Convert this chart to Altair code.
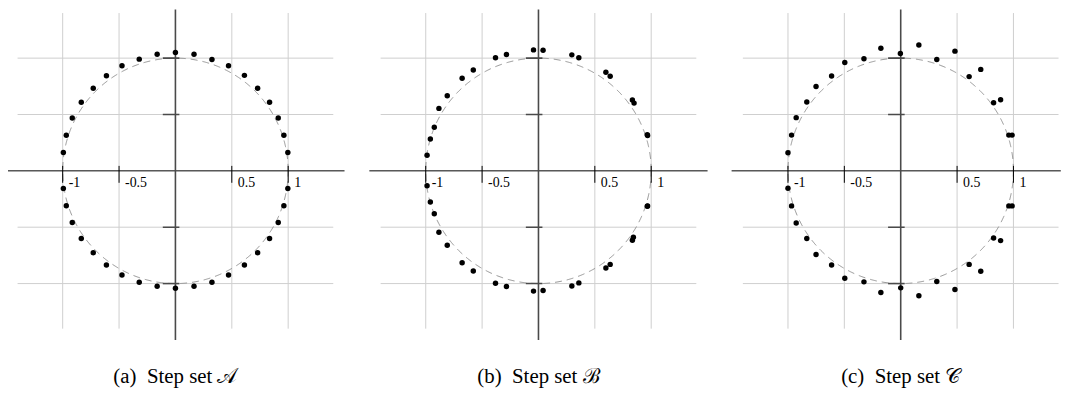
import altair as alt
import pandas as pd
import numpy as np

# ---- data ----
A_x = [0.000, 0.165, 0.324, 0.471, 0.612, 0.729, 0.835, 0.912, 0.962, 0.997,
       -0.162, -0.321, -0.474, -0.612, -0.729, -0.835, -0.915, -0.968, -0.994,
       -0.994, -0.968, -0.915, -0.835, -0.729, -0.612, -0.474, -0.321, -0.162, 0.000,
       0.165, 0.324, 0.471, 0.612, 0.729, 0.835, 0.912, 0.962, 0.997]
A_y = [1.050, 1.035, 0.988, 0.932, 0.847, 0.732, 0.609, 0.468, 0.315, 0.162,
       1.035, 0.991, 0.932, 0.844, 0.732, 0.609, 0.468, 0.315, 0.162,
       -0.156, -0.309, -0.459, -0.600, -0.726, -0.835, -0.924, -0.988, -1.024, -1.041,
       -1.024, -0.988, -0.924, -0.835, -0.726, -0.600, -0.459, -0.309, -0.156]

B_x = [-0.044, 0.041, 0.296, 0.358, 0.598, 0.636, 0.833, 0.848, 0.965, 0.968,
       0.965, 0.968, 0.842, 0.833, 0.636, 0.598, 0.358, 0.296, 0.041, -0.044,
       -0.284, -0.381, -0.578, -0.677, -0.809, -0.883, -0.924, -0.959, -0.988,
       -0.988, -0.959, -0.924, -0.883, -0.809, -0.677, -0.578, -0.381, -0.284]
B_y = [1.073, 1.070, 1.029, 1.003, 0.874, 0.839, 0.628, 0.601, 0.320, 0.314,
       -0.314, -0.311, -0.589, -0.616, -0.830, -0.862, -0.994, -1.021, -1.062, -1.067,
       1.032, 1.003, 0.894, 0.821, 0.666, 0.554, 0.387, 0.282, 0.138,
       -0.132, -0.276, -0.381, -0.545, -0.660, -0.815, -0.889, -0.997, -1.026]

C_x = [-0.003, 0.161, 0.320, 0.481, 0.607, 0.710, 0.824, 0.886, 0.959, 0.988,
       -0.176, -0.326, -0.496, -0.613, -0.751, -0.833, -0.927, -0.968, -1.000,
       -1.000, -0.968, -0.927, -0.833, -0.751, -0.613, -0.496, -0.326, -0.176,
       0.000, 0.161, 0.320, 0.481, 0.607, 0.710, 0.824, 0.886, 0.959, 0.988]
C_y = [1.041, 1.117, 0.988, 1.062, 0.836, 0.900, 0.604, 0.630, 0.317, 0.317,
       1.088, 0.994, 0.962, 0.842, 0.748, 0.610, 0.472, 0.317, 0.161,
       -0.155, -0.311, -0.463, -0.601, -0.742, -0.836, -0.953, -0.985, -1.079,
       -1.038, -1.108, -0.982, -1.053, -0.830, -0.891, -0.595, -0.619, -0.311, -0.311]

grid_vals = [-1, -0.5, 0.5, 1]
tick_labels = ["-1", "-0.5", "0.5", "1"]
captions = ["(a)\u00a0 Step set \U0001D49C",
            "(b)\u00a0 Step set \u212C",
            "(c)\u00a0 Step set \U0001D49E"]

# unit circle (reference geometry)
circ_t = np.linspace(0, 2 * np.pi, 721)
circle_df = pd.DataFrame({"cx": np.cos(circ_t), "cy": np.sin(circ_t), "o": np.arange(len(circ_t))})

SERIF = "Liberation Serif"
Y_DOM = [-1.5, 1.432]
HEIGHT = 333
U = 113.6  # pixels per unit (layout only)


def panel(xs, ys, caption, xdom, dx):
    width = round((xdom[1] - xdom[0]) * U, 1)
    xsc = alt.Scale(domain=xdom, nice=False, zero=False)
    ysc = alt.Scale(domain=Y_DOM, nice=False, zero=False)

    def X(f):
        return alt.X(f, type="quantitative", scale=xsc, axis=None)

    def Y(f):
        return alt.Y(f, type="quantitative", scale=ysc, axis=None)

    vgrid = pd.DataFrame({"x": grid_vals, "y1": [-1.4] * 4, "y2": [1.4] * 4})
    hgrid = pd.DataFrame({"y": grid_vals, "x1": [-1.4] * 4, "x2": [1.4] * 4})
    gv = alt.Chart(vgrid).mark_rule(color="#cfcfcf", strokeWidth=1, clip=True).encode(
        x=X("x"), y=Y("y1"), y2="y2")
    gh = alt.Chart(hgrid).mark_rule(color="#cfcfcf", strokeWidth=1, clip=True).encode(
        y=Y("y"), x=X("x1"), x2="x2")

    circ = alt.Chart(circle_df).mark_line(
        color="#8a8a8a", strokeWidth=0.9, strokeDash=[7, 5], clip=True
    ).encode(x=X("cx"), y=Y("cy"), order="o:Q")

    xaxis = alt.Chart(pd.DataFrame({"x1": [-1.5], "x2": [1.5], "y": [0]})).mark_rule(
        color="black", strokeWidth=1, clip=True).encode(x=X("x1"), x2="x2", y=Y("y"))
    yaxis = alt.Chart(pd.DataFrame({"x": [0], "y1": [-1.5], "y2": [1.5]})).mark_rule(
        color="#4a4a4a", strokeWidth=1.6, clip=True).encode(x=X("x"), y=Y("y1"), y2="y2")

    xt = alt.Chart(pd.DataFrame({"x": grid_vals, "y1": [0.044] * 4, "y2": [-0.106] * 4})).mark_rule(
        color="black", strokeWidth=1, clip=True).encode(x=X("x"), y=Y("y1"), y2="y2")
    yt = alt.Chart(pd.DataFrame({"y": grid_vals, "x1": [-0.112] * 4, "x2": [0.035] * 4})).mark_rule(
        color="#4a4a4a", strokeWidth=1.6, clip=True).encode(y=Y("y"), x=X("x1"), x2="x2")

    labels = alt.Chart(pd.DataFrame({"x": grid_vals, "y": [0] * 4, "t": tick_labels})).mark_text(
        align="left", baseline="alphabetic", dx=6, dy=16.5, font=SERIF, fontSize=14, color="black"
    ).encode(x=X("x"), y=Y("y"), text="t:N")

    dots = alt.Chart(pd.DataFrame({"px": xs, "py": ys})).mark_circle(
        size=30, color="black", opacity=1).encode(x=X("px"), y=Y("py"))

    return alt.layer(gv, gh, circ, xaxis, yaxis, xt, yt, labels, dots).properties(
        width=width, height=HEIGHT,
        title=alt.TitleParams(caption, orient="bottom", anchor="middle", font=SERIF,
                              fontSize=21, fontWeight="normal", color="black",
                              baseline="alphabetic", offset=43, dx=dx),
    )


p1 = panel(A_x, A_y, captions[0], [-1.485, 1.6065], -6.9)
p2 = panel(B_x, B_y, captions[1], [-1.6065, 1.6065], 0)
p3 = panel(C_x, C_y, captions[2], [-1.6065, 1.42], 10.6)

chart = alt.hconcat(p1, p2, p3, spacing=0).properties(
    padding=0, background="white"
).configure_view(stroke=None)

chart.save("out.html", embed_options={"renderer": "svg", "actions": False})
